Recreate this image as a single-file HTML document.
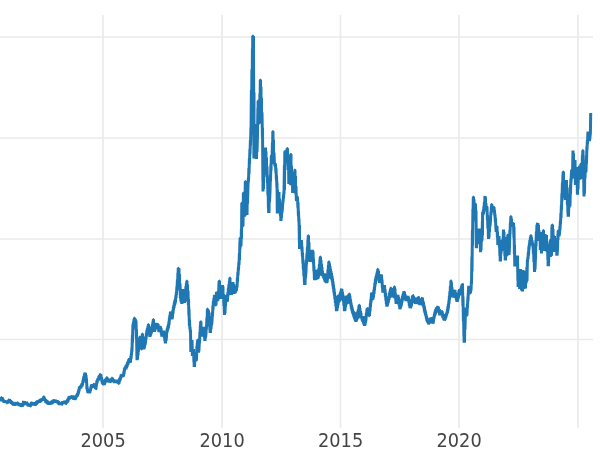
<!DOCTYPE html>
<html><head><meta charset="utf-8"><title>chart</title>
<style>
html,body{margin:0;padding:0;background:#fff;}
svg{display:block;}
text{font-family:"DejaVu Sans","Liberation Sans",sans-serif;font-size:18.3px;fill:#444444;}
</style></head>
<body>
<svg width="600" height="450" viewBox="0 0 600 450">
<defs><filter id="noop" x="0" y="0" width="600" height="450" filterUnits="userSpaceOnUse"><feOffset dx="0" dy="0"/></filter></defs>
<rect width="600" height="450" fill="#ffffff"/>
<g stroke="#eaeaea" stroke-width="1.7" fill="none"><line x1="103" y1="15" x2="103" y2="428"/><line x1="222" y1="15" x2="222" y2="428"/><line x1="340.5" y1="15" x2="340.5" y2="428"/><line x1="459" y1="15" x2="459" y2="428"/><line x1="578" y1="15" x2="578" y2="428"/><line x1="0" y1="37" x2="593" y2="37"/><line x1="0" y1="138" x2="593" y2="138"/><line x1="0" y1="239" x2="593" y2="239"/><line x1="0" y1="339.5" x2="593" y2="339.5"/></g>
<polyline points="-3.0,398.3 -3.0,399.8 -2.5,397.8 -2.5,399.6 -2.0,398.0 -2.0,400.1 -1.5,398.7 -1.1,400.4 -1.0,398.8 -0.6,400.3 -0.5,398.7 -0.2,399.9 0.0,398.2 0.0,400.9 0.5,400.1 0.9,398.4 1.0,401.0 1.4,397.5 1.5,397.5 1.5,400.2 2.0,397.2 2.4,400.0 2.5,398.0 2.9,401.0 3.0,399.6 3.4,401.3 3.5,400.0 3.9,402.6 4.0,400.5 4.4,402.6 4.5,400.2 4.9,402.6 5.0,400.5 5.4,402.5 5.5,401.2 5.9,402.9 6.0,400.5 6.1,403.3 6.5,400.9 6.5,403.5 7.0,400.7 7.0,402.9 7.5,403.2 7.9,400.1 8.0,402.8 8.4,400.5 8.5,403.1 8.9,399.8 9.0,402.3 9.4,399.3 9.5,399.0 9.5,402.1 10.0,399.7 10.0,402.8 10.5,400.6 10.9,402.9 11.0,401.4 11.4,403.7 11.5,401.0 11.9,404.1 12.0,401.4 12.4,404.2 12.5,402.1 12.9,405.0 13.0,402.5 13.1,405.1 13.5,402.2 13.5,405.7 14.0,402.6 14.0,405.3 14.5,403.2 14.5,405.2 15.0,402.3 15.0,405.5 15.5,404.4 15.9,402.0 16.0,405.0 16.4,402.6 16.5,404.7 16.9,403.0 17.0,404.2 17.1,402.7 17.5,402.9 17.5,405.1 18.0,403.0 18.4,404.5 18.5,402.9 18.9,405.7 19.0,403.7 19.4,405.3 19.5,403.2 19.9,406.2 20.0,403.1 20.4,406.4 20.5,403.9 20.9,405.9 21.0,403.8 21.4,406.7 21.5,403.1 21.9,406.0 22.0,404.1 22.4,406.3 22.5,406.5 22.9,403.6 23.0,405.6 23.4,401.5 23.5,401.3 23.5,404.3 24.0,401.1 24.0,404.4 24.5,401.1 24.5,404.8 25.0,402.1 25.0,404.8 25.5,401.8 25.5,404.0 26.0,401.5 26.0,405.0 26.5,401.6 26.5,405.0 27.0,402.5 27.4,405.1 27.5,403.6 27.9,406.1 28.0,403.8 28.4,406.0 28.5,403.7 28.9,406.6 29.0,403.6 29.1,406.7 29.5,403.9 29.5,406.8 30.0,403.8 30.0,406.2 30.5,406.0 30.9,403.4 31.0,404.6 31.4,402.3 31.5,404.8 31.8,402.5 32.0,402.3 32.0,404.5 32.5,401.9 32.5,405.6 33.0,402.5 33.0,405.0 33.5,403.1 33.9,404.5 34.0,402.7 34.4,404.9 34.5,402.1 34.5,404.7 35.0,403.1 35.0,405.7 35.5,404.3 35.9,402.2 36.0,403.7 36.4,401.8 36.5,404.6 36.9,401.3 37.0,403.7 37.4,400.4 37.5,402.9 37.9,400.9 38.0,403.1 38.4,400.8 38.5,402.9 38.9,400.2 39.0,401.9 39.4,400.3 39.5,402.9 39.9,399.5 40.0,402.4 40.4,399.1 40.5,402.0 40.9,398.8 41.0,401.4 41.4,399.2 41.5,400.3 41.9,398.7 42.0,400.4 42.4,398.8 42.5,400.8 42.9,398.1 43.0,400.5 43.4,397.0 43.5,401.0 43.8,396.8 44.0,396.8 44.0,400.3 44.5,398.1 44.9,400.4 45.0,399.0 45.4,401.2 45.5,399.3 45.9,402.8 46.0,399.8 46.4,402.8 46.5,400.5 46.9,403.6 47.0,401.7 47.4,403.7 47.5,400.8 47.9,404.2 48.0,401.4 48.4,404.2 48.5,402.3 48.8,404.8 49.0,402.1 49.0,404.8 49.5,401.2 49.5,404.2 50.0,401.9 50.0,404.8 50.5,401.4 50.5,403.6 51.0,403.4 51.4,402.2 51.5,404.2 51.9,400.8 52.0,404.0 52.4,401.6 52.5,403.4 52.9,400.1 53.0,402.9 53.4,400.6 53.5,401.8 53.8,400.6 54.0,399.3 54.0,402.4 54.5,399.9 54.5,402.8 55.0,400.1 55.0,402.7 55.5,399.5 55.5,401.7 56.0,400.3 56.0,401.8 56.5,400.4 56.5,402.3 57.0,400.4 57.4,402.4 57.5,400.9 57.9,403.5 58.0,401.1 58.4,403.4 58.5,401.3 58.9,404.5 59.0,402.0 59.4,405.1 59.5,402.1 59.8,404.9 60.0,402.1 60.0,404.3 60.5,402.2 60.5,404.4 61.0,402.7 61.0,405.0 61.5,402.5 61.5,404.5 62.0,404.3 62.4,401.4 62.5,403.9 62.9,401.6 63.0,404.2 63.3,401.1 63.5,401.6 63.5,403.9 64.0,401.5 64.0,403.6 64.5,400.8 64.5,403.9 65.0,401.1 65.3,404.2 65.5,400.6 65.5,403.8 66.0,403.6 66.4,400.9 66.5,403.4 66.9,400.5 67.0,402.6 67.4,400.0 67.5,402.5 67.9,399.0 68.0,401.6 68.4,397.8 68.5,399.9 68.9,396.7 69.0,399.9 69.4,396.7 69.5,398.3 69.9,396.0 70.0,398.5 70.4,396.8 70.5,398.1 70.9,396.6 71.0,398.7 71.4,396.4 71.5,398.9 71.9,395.4 72.0,398.7 72.3,396.1 72.5,395.4 72.5,397.9 73.0,395.5 73.4,399.4 73.5,396.4 73.9,399.8 74.0,396.3 74.3,399.7 74.5,395.7 74.5,400.0 75.0,396.5 75.0,399.3 75.5,398.6 75.9,396.0 76.0,397.9 76.4,395.7 76.5,396.9 76.9,394.4 77.0,396.7 77.4,393.8 77.5,395.8 77.9,393.0 78.0,394.7 78.4,390.8 78.5,393.4 78.9,389.1 79.0,391.5 79.4,386.7 79.5,389.0 79.9,386.7 80.0,388.8 80.4,386.4 80.5,387.4 80.9,385.7 81.0,388.1 81.4,384.7 81.5,386.6 81.9,383.4 82.0,386.5 82.4,383.1 82.5,385.1 82.9,380.6 83.0,382.8 83.4,378.7 83.5,381.1 83.9,376.1 84.0,380.8 84.4,374.7 84.5,380.7 84.9,372.9 85.0,372.5 85.0,380.7 85.5,373.0 85.5,380.7 86.0,375.2 86.4,383.0 86.5,378.5 86.9,389.3 87.0,385.9 87.4,391.1 87.5,389.1 87.9,393.0 88.0,389.5 88.0,393.2 88.5,389.5 88.5,393.2 89.0,389.3 89.0,392.9 89.5,388.8 89.5,392.5 90.0,392.0 90.4,388.6 90.5,390.6 90.9,387.0 91.0,388.8 91.3,385.6 91.5,384.7 91.5,387.8 92.0,385.4 92.0,387.5 92.5,384.3 92.5,386.9 93.0,387.4 93.4,384.3 93.5,387.8 93.9,384.2 94.0,387.3 94.3,383.9 94.5,383.5 94.5,387.8 95.0,384.1 95.4,388.6 95.5,384.0 95.6,389.0 96.0,388.7 96.4,383.3 96.5,385.5 96.9,380.7 97.0,383.3 97.4,379.7 97.5,381.0 97.9,378.6 98.0,381.1 98.4,377.9 98.5,380.0 98.9,375.9 99.0,379.1 99.4,375.8 99.5,379.2 99.9,374.9 100.0,379.0 100.3,374.3 100.5,374.2 100.5,379.4 101.0,374.5 101.0,379.3 101.5,377.0 101.9,381.8 102.0,379.1 102.4,383.5 102.5,380.5 102.9,384.3 103.0,380.2 103.4,384.9 103.5,380.5 103.8,385.3 104.0,380.6 104.0,385.2 104.5,380.5 104.5,384.5 105.0,382.5 105.4,379.7 105.5,381.8 105.9,378.8 106.0,382.1 106.4,378.1 106.5,382.1 106.8,377.6 107.0,377.6 107.0,382.3 107.5,378.5 107.5,381.9 108.0,378.5 108.3,381.9 108.5,378.9 108.5,382.6 109.0,379.8 109.0,382.7 109.5,378.5 109.5,382.3 110.0,378.7 110.0,382.4 110.5,381.7 110.9,379.5 111.0,382.0 111.4,378.6 111.5,381.9 111.9,377.9 112.0,381.9 112.3,378.0 112.5,377.9 112.5,381.7 113.0,378.8 113.0,380.8 113.5,379.5 113.9,381.8 114.0,380.2 114.3,383.0 114.5,379.8 114.5,382.8 115.0,379.7 115.0,382.9 115.5,379.9 115.5,381.8 116.0,379.5 116.0,383.0 116.5,379.9 116.9,382.7 117.0,379.8 117.4,382.4 117.5,379.8 117.9,383.2 118.0,380.7 118.3,383.5 118.5,379.9 118.5,383.4 119.0,383.5 119.4,379.0 119.5,381.5 119.9,378.0 120.0,380.6 120.4,376.8 120.5,379.3 120.9,375.3 121.0,377.5 121.3,374.4 121.5,375.0 121.5,376.7 122.0,374.0 122.0,376.8 122.5,374.3 122.5,376.3 123.0,376.7 123.4,374.9 123.5,376.5 123.9,371.3 124.0,374.1 124.4,368.5 124.5,371.2 124.9,367.5 125.0,369.2 125.4,366.9 125.5,368.8 125.9,365.6 126.0,369.3 126.4,364.5 126.5,367.7 126.9,364.7 127.0,367.2 127.4,362.4 127.5,365.1 127.9,361.6 128.0,364.7 128.4,360.6 128.5,362.9 128.8,359.5 129.0,359.5 129.0,362.2 129.5,358.2 129.5,361.5 130.0,358.4 130.0,362.1 130.5,361.6 130.9,355.8 131.0,359.2 131.4,352.8 131.5,355.1 131.9,347.5 132.0,351.5 132.4,335.0 132.5,342.5 132.9,324.5 133.0,330.0 133.4,322.2 133.5,327.0 133.9,319.7 134.0,326.6 134.3,318.0 134.5,318.0 134.5,326.6 135.0,318.5 135.0,326.6 135.5,319.2 135.5,326.8 136.0,320.6 136.4,338.6 136.5,329.4 136.9,356.6 137.0,338.4 137.0,360.2 137.5,338.4 137.5,359.4 138.0,338.4 138.0,355.5 138.5,338.4 138.5,351.6 139.0,338.4 139.0,349.0 139.5,349.0 139.8,337.0 140.0,337.0 140.0,349.0 140.5,337.0 140.5,349.0 141.0,337.0 141.0,349.0 141.5,337.0 141.5,349.0 142.0,349.0 142.3,334.0 142.5,334.0 142.5,349.0 143.0,337.1 143.0,349.0 143.5,337.1 143.8,349.5 144.0,337.1 144.0,349.5 144.5,337.1 144.5,347.8 145.0,337.1 145.0,345.0 145.5,342.4 145.9,336.2 146.0,339.3 146.4,333.1 146.5,336.1 146.9,330.0 147.0,334.7 147.4,328.2 147.5,334.5 147.9,326.2 148.0,334.5 148.3,324.5 148.5,324.5 148.5,334.5 149.0,326.9 149.0,334.5 149.5,327.0 149.8,337.0 150.0,327.0 150.0,337.0 150.5,327.0 150.5,335.6 151.0,326.7 151.0,333.8 151.5,332.0 151.9,326.0 152.0,331.6 152.4,324.1 152.5,331.4 152.9,321.6 153.0,331.4 153.3,319.5 153.5,319.5 153.5,331.4 154.0,323.3 154.3,332.0 154.5,324.0 154.5,332.0 155.0,323.8 155.0,330.6 155.5,323.3 155.5,328.7 156.0,322.7 156.0,329.2 156.5,322.9 156.5,328.2 157.0,324.1 157.0,329.1 157.5,323.2 157.5,328.9 158.0,324.0 158.4,328.8 158.5,326.2 158.8,332.2 159.0,325.9 159.0,332.1 159.5,325.7 159.5,331.5 160.0,326.7 160.0,331.4 160.5,326.2 160.5,331.9 161.0,327.8 161.4,334.4 161.5,330.4 161.8,336.7 162.0,330.5 162.0,336.6 162.5,330.8 162.5,336.8 163.0,330.7 163.0,336.9 163.5,330.4 163.5,336.4 164.0,331.5 164.4,338.1 164.5,331.6 164.9,341.0 165.0,331.6 165.3,343.5 165.5,331.6 165.5,343.5 166.0,331.6 166.0,340.8 166.5,336.4 166.9,329.5 167.0,332.7 167.4,328.1 167.5,330.9 167.9,325.8 168.0,329.4 168.4,324.4 168.5,327.7 168.9,321.5 169.0,324.9 169.4,317.6 169.5,320.2 169.9,314.9 170.0,319.5 170.4,312.2 170.5,311.8 170.5,319.2 171.0,311.7 171.0,319.4 171.5,311.8 171.5,319.1 172.0,311.8 172.0,319.2 172.5,316.9 172.9,310.0 173.0,313.7 173.4,306.8 173.5,309.6 173.9,304.8 174.0,307.8 174.4,302.0 174.5,305.6 174.9,300.2 175.0,304.3 175.4,298.5 175.5,302.2 175.9,295.3 176.0,298.2 176.4,291.9 176.5,294.8 176.9,286.3 177.0,290.6 177.4,279.5 177.5,289.2 177.9,272.5 178.0,289.2 178.2,268.3 178.5,268.3 178.5,289.2 179.0,268.3 179.0,289.2 179.5,273.9 179.5,289.2 180.0,283.3 180.4,298.1 180.5,289.0 180.9,301.2 181.0,289.0 181.4,302.8 181.5,289.0 181.8,304.0 182.0,289.0 182.0,304.0 182.5,289.0 182.5,303.0 183.0,289.0 183.0,303.0 183.5,289.0 183.5,303.0 184.0,289.0 184.0,303.0 184.5,289.0 184.5,303.0 185.0,289.0 185.0,301.8 185.5,299.0 185.9,286.4 186.0,299.0 186.4,283.4 186.5,299.0 186.8,281.0 187.0,281.0 187.0,299.0 187.5,284.6 187.5,299.0 188.0,290.6 188.4,305.0 188.5,299.0 188.9,315.4 189.0,309.1 189.4,325.9 189.5,319.6 189.9,329.3 190.0,327.0 190.4,332.6 190.5,330.0 190.8,352.0 191.0,340.0 191.0,352.0 191.5,340.0 191.5,352.0 192.0,340.0 192.4,356.0 192.5,349.0 192.5,356.1 193.0,348.9 193.0,356.0 193.5,349.0 193.9,362.1 194.0,352.0 194.2,367.0 194.5,352.0 194.5,367.0 195.0,352.0 195.0,361.0 195.5,352.0 195.5,361.0 196.0,352.0 196.0,361.0 196.5,359.2 196.9,345.9 197.0,352.5 197.4,341.7 197.5,352.5 197.6,340.0 198.0,340.0 198.0,352.5 198.5,340.0 198.5,352.5 199.0,349.9 199.4,339.3 199.5,343.3 199.9,332.1 200.0,336.7 200.4,324.7 200.5,336.7 200.6,321.7 201.0,321.7 201.0,336.7 201.5,326.7 201.5,336.7 202.0,326.7 202.0,336.7 202.5,326.7 202.5,336.7 203.0,326.7 203.0,336.7 203.5,326.7 203.5,336.7 204.0,326.7 204.4,337.6 204.5,326.7 204.8,341.0 205.0,326.7 205.0,341.0 205.5,326.7 205.5,338.2 206.0,333.5 206.4,325.8 206.5,328.8 206.9,317.9 207.0,326.3 207.4,309.0 207.5,309.0 207.5,326.3 208.0,309.4 208.0,326.3 208.5,310.3 208.5,326.3 209.0,312.4 209.0,326.3 209.5,316.1 209.9,330.3 210.0,316.1 210.1,333.0 210.5,316.1 210.5,333.0 211.0,316.1 211.0,329.2 211.5,316.1 211.5,325.4 212.0,321.5 212.4,312.2 212.5,316.1 212.9,305.6 213.0,309.6 213.4,301.1 213.5,305.6 213.9,298.1 214.0,305.0 214.4,295.6 214.5,295.0 214.5,305.0 215.0,295.0 215.0,305.0 215.5,295.0 215.5,305.0 216.0,305.0 216.4,293.9 216.5,291.7 216.5,300.1 217.0,291.9 217.0,300.2 217.5,291.7 217.5,300.1 218.0,300.0 218.4,291.2 218.5,299.0 218.9,283.9 219.0,299.0 219.1,281.0 219.5,281.0 219.5,299.0 220.0,285.0 220.0,299.0 220.5,285.0 220.5,299.0 221.0,285.0 221.0,299.0 221.5,285.0 221.5,299.0 222.0,285.0 222.0,299.0 222.5,285.0 222.5,299.0 223.0,286.5 223.0,299.0 223.5,294.0 223.9,306.0 224.0,296.0 224.4,313.5 224.5,296.0 224.5,315.0 225.0,296.0 225.0,313.5 225.5,296.0 225.5,306.2 226.0,295.1 226.0,300.5 226.5,295.7 226.5,301.0 227.0,294.9 227.0,301.5 227.5,300.4 227.9,292.4 228.0,295.7 228.4,287.7 228.5,293.7 228.9,284.2 229.0,293.7 229.4,280.8 229.5,293.7 229.8,278.0 230.0,278.0 230.0,293.7 230.5,281.9 230.5,293.7 231.0,282.0 231.1,295.0 231.5,282.0 231.5,295.0 232.0,282.0 232.0,293.0 232.5,282.0 232.5,293.0 233.0,282.0 233.0,293.0 233.5,283.9 233.5,293.0 234.0,286.1 234.0,293.8 234.5,285.7 234.5,293.3 235.0,286.2 235.0,293.3 235.5,285.7 235.5,292.4 236.0,286.4 236.0,291.0 236.5,289.8 236.9,284.1 237.0,287.8 237.4,277.9 237.5,281.6 237.9,272.0 238.0,275.5 238.4,267.0 238.5,270.0 238.9,262.0 239.0,265.0 239.4,253.4 239.5,260.0 239.9,242.4 240.0,249.0 240.1,238.0 240.5,238.0 240.5,246.0 241.0,246.0 241.4,228.6 241.5,238.7 241.8,203.0 242.0,203.0 242.0,226.0 242.5,203.0 242.5,226.0 243.0,226.0 243.4,193.0 243.5,193.0 243.5,216.0 244.0,193.0 244.0,216.0 244.5,193.0 244.5,216.0 245.0,215.0 245.3,181.5 245.5,181.5 245.5,215.0 246.0,181.5 246.0,215.0 246.5,181.5 246.5,215.0 247.0,181.5 247.0,215.0 247.5,181.5 247.5,203.7 248.0,185.2 248.4,177.8 248.5,181.4 248.9,168.0 249.0,174.0 249.4,158.2 249.5,164.0 249.9,149.1 250.0,154.5 250.4,140.0 250.5,145.5 250.9,127.5 251.0,135.0 251.4,90.0 251.5,135.0 251.9,69.2 252.0,135.0 252.4,48.5 252.5,135.0 252.7,36.0 253.0,36.0 253.0,135.0 253.5,36.0 253.9,158.5 254.0,92.5 254.0,158.5 254.5,124.0 254.5,158.5 255.0,124.0 255.0,158.5 255.5,124.0 255.5,158.5 256.0,124.0 256.4,159.0 256.5,124.0 256.5,159.0 257.0,124.0 257.0,152.2 257.5,135.1 257.9,107.8 258.0,123.0 258.1,101.0 258.5,101.0 258.5,123.0 259.0,101.0 259.0,123.0 259.5,123.0 259.9,93.2 260.0,123.0 260.3,80.0 260.5,80.0 260.5,123.0 261.0,86.7 261.0,123.0 261.5,97.8 261.5,123.0 262.0,112.3 262.4,136.9 262.5,127.7 262.9,181.2 263.0,147.5 263.0,191.5 263.5,147.5 263.5,189.1 264.0,147.5 264.0,177.0 264.5,147.5 264.5,174.6 265.0,147.5 265.0,174.6 265.5,147.5 265.5,174.6 266.0,151.3 266.0,174.6 266.5,157.5 266.5,174.6 267.0,166.3 267.4,182.9 267.5,176.7 267.9,195.2 268.0,176.7 268.4,207.9 268.5,176.7 268.6,213.0 269.0,176.7 269.0,213.0 269.5,176.7 269.5,202.4 270.0,191.9 270.4,175.0 270.5,181.3 270.9,164.4 271.0,170.8 271.3,156.0 271.5,155.8 271.5,163.3 272.0,163.2 272.4,142.9 272.5,163.2 272.8,131.5 273.0,131.5 273.0,163.2 273.5,139.4 273.5,163.2 274.0,152.5 274.4,163.3 274.5,162.6 274.9,165.7 275.0,163.1 275.4,166.7 275.5,163.8 275.9,172.7 276.0,168.3 276.4,179.9 276.5,175.6 276.9,187.1 277.0,182.8 277.3,213.5 277.5,190.0 277.5,213.5 278.0,192.0 278.0,213.5 278.5,192.0 278.5,213.5 279.0,192.0 279.0,213.5 279.5,198.6 279.5,213.5 280.0,202.5 280.4,215.7 280.5,202.5 280.8,221.0 281.0,202.5 281.0,221.0 281.5,202.5 281.5,217.8 282.0,202.5 282.0,212.5 282.5,207.2 282.9,200.0 283.0,202.6 283.4,195.7 283.5,198.5 283.9,191.4 284.0,194.2 284.4,165.0 284.5,190.0 284.8,151.5 285.0,151.5 285.0,161.6 285.5,151.5 285.5,161.6 286.0,151.5 286.0,161.6 286.5,161.6 286.9,149.5 287.0,161.6 287.1,148.5 287.5,148.5 287.9,165.7 288.0,155.4 288.1,170.0 288.5,155.4 288.8,184.0 289.0,155.4 289.0,184.0 289.5,155.4 289.5,184.0 290.0,155.4 290.0,184.0 290.5,184.0 290.8,154.3 291.0,154.3 291.0,184.0 291.5,165.8 291.6,185.0 292.0,172.0 292.0,185.0 292.5,172.0 292.6,193.0 293.0,172.0 293.0,193.0 293.5,172.0 293.5,192.0 294.0,172.0 294.0,192.0 294.5,192.0 294.8,170.0 295.0,170.0 295.0,192.0 295.5,176.0 295.5,192.0 296.0,186.0 296.3,200.0 296.5,195.8 296.5,201.0 297.0,195.7 297.0,201.4 297.5,197.0 297.9,207.8 298.0,202.4 298.4,216.3 298.5,211.4 298.9,222.5 299.0,218.8 299.4,243.0 299.5,225.0 299.5,249.0 300.0,240.0 300.0,249.0 300.5,240.0 300.5,249.0 301.0,240.0 301.0,249.0 301.5,240.0 301.9,250.4 302.0,246.5 302.4,256.8 302.5,252.9 302.9,263.3 303.0,259.4 303.4,269.7 303.5,263.3 303.9,276.1 304.0,263.3 304.4,282.4 304.5,263.3 304.6,285.0 305.0,263.3 305.0,285.0 305.5,263.3 305.5,278.2 306.0,271.3 306.4,260.3 306.5,264.5 306.9,253.5 307.0,260.3 307.4,246.7 307.5,260.3 307.9,239.8 308.0,260.3 308.2,235.7 308.5,235.7 308.5,260.3 309.0,242.3 309.0,260.3 309.5,250.5 309.8,262.0 310.0,250.5 310.0,262.0 310.5,250.5 310.5,261.1 311.0,250.5 311.0,261.1 311.8,249.7 311.8,262.0 312.0,249.7 312.0,262.0 312.5,249.7 312.5,262.0 313.0,251.2 313.4,263.5 313.5,258.9 313.9,271.1 314.0,266.5 314.4,278.8 314.5,270.1 314.5,280.3 315.0,270.1 315.0,280.2 315.5,270.1 315.5,279.9 316.0,270.1 316.0,279.6 316.5,270.0 316.5,279.3 317.0,269.9 317.0,279.1 317.5,269.7 317.5,278.8 318.0,269.9 318.0,278.4 318.5,276.2 318.9,268.1 319.0,275.4 319.4,264.0 319.5,275.4 319.9,259.6 320.0,275.4 320.2,257.0 320.5,257.0 320.5,275.4 321.0,260.0 321.0,275.4 321.5,263.8 321.5,275.4 322.0,267.0 322.0,276.0 322.5,270.8 322.5,275.9 323.0,273.6 323.4,277.7 323.5,273.3 323.9,278.5 324.0,273.8 324.4,279.7 324.5,273.4 324.9,281.4 325.0,274.3 325.4,282.3 325.5,274.4 325.9,282.5 326.0,274.1 326.4,283.2 326.5,274.2 326.5,283.2 327.0,274.3 327.0,282.6 327.5,278.5 327.9,269.9 328.0,278.4 328.4,265.4 328.5,278.4 328.8,261.7 329.0,261.7 329.0,278.4 329.5,263.4 329.5,278.4 330.0,266.1 330.0,278.4 330.5,268.8 330.5,278.5 331.0,270.7 331.0,278.9 331.5,273.2 331.9,280.1 332.0,276.2 332.4,282.1 332.5,278.6 332.9,286.0 333.0,281.6 333.4,289.0 333.5,284.8 333.9,292.3 334.0,288.4 334.4,295.3 334.5,292.2 334.9,299.2 335.0,295.5 335.4,302.9 335.5,295.7 335.9,306.5 336.0,295.7 336.4,310.5 336.5,295.7 336.5,311.3 337.0,295.7 337.0,310.7 337.5,295.7 337.5,307.9 338.0,295.7 338.0,305.1 338.5,295.1 338.5,302.7 339.0,294.8 339.0,301.6 339.5,300.7 339.9,293.9 340.0,300.4 340.4,292.2 340.5,300.1 340.9,290.7 341.0,300.1 341.4,289.0 341.5,288.7 341.5,300.1 342.0,289.3 342.0,300.1 342.5,291.9 342.5,300.3 343.0,294.6 343.4,301.9 343.5,296.3 343.9,305.6 344.0,296.3 344.4,310.4 344.5,296.3 344.5,311.3 345.0,296.3 345.0,310.6 345.5,296.3 345.5,307.3 346.0,296.2 346.0,304.2 346.5,295.9 346.5,303.5 347.0,295.9 347.0,303.3 347.5,303.5 347.9,295.6 348.0,303.2 348.4,294.7 348.5,303.1 348.9,294.3 349.0,303.0 349.1,294.0 349.5,294.0 349.5,303.0 350.0,296.2 350.0,303.7 350.5,299.3 350.9,305.6 351.0,302.5 351.4,308.6 351.5,305.2 351.9,310.4 352.0,306.5 352.4,312.7 352.5,309.0 352.9,313.9 353.0,310.9 353.4,315.4 353.5,311.4 353.9,317.1 354.0,311.8 354.4,318.3 354.5,312.5 354.9,319.6 355.0,312.7 355.4,320.9 355.5,312.8 355.8,322.0 356.0,312.8 356.0,322.0 356.5,312.7 356.5,320.6 357.0,312.2 357.0,318.7 357.5,318.1 357.9,310.9 358.0,317.8 358.4,308.8 358.5,317.8 358.9,306.3 359.0,317.8 359.1,305.3 359.5,305.3 359.5,317.8 360.0,308.2 360.0,317.8 360.5,310.9 360.5,318.3 361.0,312.8 361.0,318.3 361.5,316.2 361.9,319.4 362.0,316.1 362.4,321.5 362.5,316.2 362.9,321.9 363.0,316.1 363.4,323.5 363.5,316.6 363.9,324.5 364.0,316.7 364.4,325.7 364.5,316.7 364.5,326.0 365.0,316.7 365.0,325.3 365.5,316.4 365.5,322.7 366.0,319.5 366.4,312.8 366.5,316.3 366.9,309.5 367.0,315.5 367.1,308.3 367.5,308.5 367.5,315.5 368.0,308.3 368.0,315.4 368.5,308.4 368.5,315.5 369.0,308.3 369.0,315.7 369.5,315.7 369.9,307.9 370.0,311.3 370.4,303.7 370.5,306.8 370.9,299.0 371.0,302.5 371.4,294.4 371.5,293.2 371.5,298.8 372.0,292.4 372.0,298.4 372.5,292.9 372.5,299.1 373.0,299.1 373.4,293.7 373.5,297.2 373.9,289.8 374.0,293.9 374.4,286.8 374.5,290.1 374.9,283.2 375.0,286.2 375.4,279.4 375.5,283.8 375.9,276.9 376.0,281.3 376.4,275.0 376.5,279.6 376.9,272.8 377.0,279.3 377.4,270.7 377.5,278.8 377.8,269.3 378.0,269.2 378.0,278.8 378.5,270.9 378.5,279.1 379.0,274.0 379.4,282.3 379.5,274.4 379.5,282.9 380.0,274.4 380.0,283.2 380.5,274.3 380.5,283.1 381.0,274.5 381.0,282.9 381.5,274.5 381.9,283.2 382.0,279.5 382.4,288.3 382.5,284.7 382.8,292.6 383.0,285.0 383.0,292.7 383.5,285.8 383.5,292.4 384.0,285.8 384.0,292.3 384.5,285.0 384.9,292.8 385.0,289.1 385.4,296.8 385.5,292.8 385.9,300.4 386.0,296.7 386.4,304.2 386.5,297.3 386.8,306.7 387.0,297.3 387.0,306.7 387.5,297.1 387.5,305.5 388.0,296.4 388.0,303.2 388.5,300.9 388.9,296.3 389.0,299.9 389.4,293.1 389.5,297.9 389.9,291.3 390.0,297.8 390.4,289.4 390.5,297.3 390.8,288.0 391.0,288.0 391.0,297.3 391.5,288.1 391.5,297.3 392.0,288.1 392.0,297.3 392.5,288.1 392.5,297.3 393.0,288.1 393.0,296.9 393.5,288.0 393.5,297.0 394.0,296.9 394.4,286.7 394.5,286.7 394.5,296.9 395.0,288.5 395.0,297.2 395.5,293.5 395.9,302.1 396.0,294.7 396.1,304.0 396.5,294.7 396.5,304.0 397.0,294.7 397.0,304.0 397.5,294.7 397.5,304.0 398.0,294.7 398.0,304.0 398.5,296.8 398.5,304.5 399.0,299.9 399.4,306.5 399.5,300.1 399.8,309.3 400.0,300.1 400.0,309.3 400.5,300.0 400.5,308.2 401.0,299.3 401.0,306.6 401.5,303.7 401.9,298.3 402.0,302.4 402.4,296.3 402.5,300.5 402.9,294.5 403.0,299.4 403.4,293.0 403.5,298.1 403.8,291.2 404.0,291.8 404.0,298.6 404.5,291.9 404.5,298.2 405.0,294.0 405.0,299.4 405.5,295.9 405.9,301.1 406.0,295.6 406.1,300.4 406.5,295.8 406.5,301.2 407.0,295.7 407.0,301.3 407.5,296.2 407.5,301.5 408.0,295.8 408.0,301.3 408.5,297.1 408.9,302.9 409.0,299.7 409.4,305.8 409.5,299.7 409.9,307.6 410.0,300.2 410.1,308.2 410.5,300.4 410.5,308.4 411.0,299.6 411.0,306.8 411.5,304.7 411.9,299.2 412.0,303.0 412.4,296.1 412.5,302.0 412.8,295.3 413.0,295.4 413.0,302.6 413.5,296.2 413.5,302.6 414.0,297.0 414.0,303.2 414.5,297.8 414.9,302.7 415.0,299.4 415.2,303.4 415.5,298.7 415.5,303.9 416.0,297.9 416.0,304.0 416.5,299.2 416.5,303.7 417.0,297.8 417.0,303.8 417.5,302.6 417.9,297.7 418.0,303.4 418.1,297.0 418.5,297.3 418.5,303.6 419.0,298.8 419.4,303.2 419.5,298.7 419.8,305.2 420.0,299.2 420.0,305.2 420.5,298.2 420.5,304.3 421.0,298.6 421.0,304.9 421.5,304.2 421.9,298.4 422.0,304.8 422.1,298.2 422.5,297.7 422.5,304.4 423.0,300.8 423.4,306.4 423.5,302.3 423.9,308.1 424.0,305.0 424.4,311.3 424.5,306.9 424.9,312.8 425.0,309.6 425.4,314.9 425.5,312.0 425.9,316.3 426.0,314.0 426.4,319.0 426.5,315.8 426.9,320.8 427.0,317.6 427.4,322.2 427.5,319.5 427.9,322.5 428.0,318.4 428.4,324.0 428.5,319.7 428.5,324.5 429.0,318.7 429.0,323.7 429.5,318.8 429.5,323.1 430.0,322.1 430.4,318.5 430.5,323.5 430.8,318.7 431.0,317.4 431.0,322.7 431.5,317.9 431.5,322.4 432.0,317.5 432.0,322.6 432.5,317.4 432.8,323.4 433.0,317.5 433.0,323.7 433.5,320.9 433.9,316.3 434.0,318.8 434.4,314.1 434.5,316.3 434.9,311.9 435.0,315.4 435.4,309.9 435.5,313.9 435.9,309.0 436.0,311.3 436.4,307.3 436.5,311.8 436.9,307.3 437.0,312.6 437.4,307.4 437.5,311.9 437.6,306.9 438.0,306.3 438.0,312.5 438.5,307.3 438.9,312.0 439.0,309.1 439.4,313.0 439.5,309.4 439.7,315.4 440.0,311.6 440.0,313.7 440.5,311.6 440.5,314.3 441.0,310.2 441.0,315.5 441.5,310.4 441.9,314.0 442.0,311.0 442.4,316.3 442.5,312.5 442.9,318.1 443.0,314.8 443.4,317.8 443.5,314.1 443.9,320.1 444.0,314.5 444.4,320.2 444.5,314.6 444.5,320.8 445.0,315.1 445.0,319.8 445.5,314.7 445.5,318.3 446.0,317.0 446.4,313.1 446.5,315.6 446.9,312.2 447.0,314.0 447.4,309.7 447.5,312.8 447.9,306.7 448.0,310.7 448.4,304.1 448.5,307.4 448.9,300.5 449.0,303.7 449.4,295.9 449.5,299.7 449.9,291.3 450.0,296.7 450.4,286.0 450.5,296.7 450.9,280.7 451.0,280.7 451.0,296.7 451.5,282.5 451.5,296.7 452.0,287.2 452.0,296.7 452.5,289.8 452.7,297.4 453.0,289.5 453.0,297.7 453.5,289.8 453.5,297.6 454.0,289.7 454.0,297.4 454.5,289.8 454.5,297.3 455.0,289.7 455.0,297.4 455.5,292.3 455.5,297.9 456.0,293.2 456.4,300.1 456.5,293.6 456.9,301.7 457.0,293.7 457.0,302.0 457.5,293.4 457.5,301.3 458.0,292.9 458.0,299.1 458.5,296.4 458.9,291.0 459.0,290.5 459.0,295.7 459.5,289.1 459.5,295.4 460.0,291.0 460.0,294.0 460.5,293.4 460.9,288.3 461.0,293.6 461.4,286.9 461.5,293.1 461.9,285.0 462.0,293.1 462.2,284.1 462.5,284.3 462.9,305.9 463.0,296.6 463.4,321.2 463.5,307.5 463.9,336.6 464.0,307.5 464.1,342.8 464.5,307.5 464.5,342.8 465.0,307.5 465.0,329.2 465.5,307.5 465.5,316.0 466.0,307.5 466.0,316.0 466.5,307.5 466.5,316.0 467.0,314.6 467.4,303.7 467.5,307.8 467.9,296.8 468.0,300.9 468.4,289.9 468.5,294.2 468.6,286.9 469.0,286.3 469.0,293.6 469.5,286.3 469.5,293.2 470.0,287.2 470.0,293.0 470.5,293.0 470.9,287.0 471.0,290.6 471.4,281.0 471.5,284.6 471.9,256.5 472.0,271.5 472.4,230.0 472.5,245.5 472.9,209.0 473.0,220.0 473.3,197.0 473.5,197.0 473.5,220.0 474.0,199.2 474.0,220.0 474.5,202.8 474.5,220.0 475.0,203.5 475.0,220.0 475.5,203.5 475.9,221.7 476.0,210.4 476.3,248.3 476.5,228.5 476.5,248.3 477.0,228.5 477.0,244.2 477.5,228.5 477.5,244.0 478.0,228.5 478.0,244.0 478.5,228.5 478.5,244.0 479.0,228.5 479.0,244.0 479.5,228.5 479.5,244.0 480.0,228.5 480.4,248.9 480.5,228.5 480.5,252.3 481.0,228.5 481.0,250.5 481.5,228.5 481.5,241.2 482.0,240.0 482.4,221.3 482.5,235.3 482.6,212.0 483.0,215.1 483.4,209.9 483.5,214.0 483.9,206.4 484.0,209.9 484.4,201.7 484.5,209.9 484.9,196.9 485.0,196.0 485.0,209.9 485.5,197.2 485.5,209.9 486.0,203.2 486.0,210.0 486.5,206.0 486.9,211.8 487.0,206.5 487.4,220.2 487.5,215.1 487.9,228.7 488.0,216.8 488.4,237.3 488.5,216.8 488.5,239.0 489.0,216.8 489.0,237.8 489.5,216.8 489.5,232.0 490.0,216.8 490.0,226.2 490.5,220.3 490.9,211.8 491.0,214.9 491.4,206.6 491.5,211.5 491.6,204.5 492.0,204.4 492.0,211.6 492.5,206.1 492.5,211.9 493.0,206.2 493.0,211.9 493.5,206.2 493.5,211.7 494.0,207.1 494.4,213.2 494.5,210.7 494.9,216.5 495.0,214.3 495.4,222.5 495.5,218.4 495.9,229.3 496.0,225.2 496.1,232.0 496.5,225.8 496.5,232.0 497.0,226.0 497.4,237.4 497.5,231.7 497.8,245.0 498.0,236.0 498.0,245.0 498.5,236.0 498.5,245.0 499.0,236.0 499.4,246.9 499.5,240.0 499.9,256.0 500.0,240.0 500.2,261.5 500.5,240.0 500.5,261.5 501.0,240.0 501.0,253.7 501.5,240.0 501.5,250.0 502.0,240.0 502.0,250.0 502.5,250.0 502.9,238.3 503.0,250.0 503.4,231.0 503.5,229.5 503.5,250.0 504.0,231.7 504.0,250.0 504.5,237.0 504.9,256.0 505.0,237.0 505.2,260.5 505.5,237.0 505.5,260.5 506.0,237.0 506.0,255.0 506.5,237.0 506.5,255.0 507.0,237.0 507.0,255.0 507.5,255.0 507.8,235.0 508.0,235.0 508.0,255.0 508.5,235.0 508.5,255.0 509.0,235.0 509.0,255.0 509.5,246.9 509.9,230.0 510.0,234.5 510.4,222.5 510.5,227.0 510.8,216.5 511.0,216.5 511.0,225.0 511.5,218.5 511.5,225.1 512.0,221.9 512.0,225.6 512.5,222.2 512.5,226.2 513.0,222.6 513.0,225.5 513.5,223.0 513.9,237.7 514.0,226.7 514.4,254.2 514.5,245.0 514.8,266.5 515.0,255.5 515.0,266.5 515.5,255.5 515.5,266.5 516.0,255.5 516.0,266.5 516.5,255.5 516.5,266.5 517.0,255.5 517.0,266.5 517.5,255.5 517.9,280.7 518.0,269.0 518.1,287.0 518.5,269.0 518.5,287.0 519.0,269.0 519.0,287.0 519.5,269.0 519.6,289.0 520.0,269.0 520.0,289.0 520.5,269.0 520.5,289.0 521.0,270.0 521.4,290.1 521.5,270.0 521.9,290.8 522.0,270.0 522.4,291.4 522.5,270.0 522.5,291.5 523.0,270.0 523.0,289.0 523.5,271.0 523.5,289.0 524.0,271.0 524.0,289.0 524.5,271.0 524.5,288.5 525.0,271.0 525.0,288.5 525.5,271.0 525.5,288.5 526.0,271.0 526.0,283.0 526.5,281.0 526.9,266.7 527.0,281.0 527.4,259.9 527.5,261.6 527.9,257.1 528.0,258.8 528.4,251.8 528.5,255.5 528.9,246.4 529.0,249.6 529.4,243.4 529.5,245.6 529.9,240.2 530.0,244.7 530.4,237.7 530.5,244.7 530.8,235.5 531.0,235.5 531.0,244.7 531.5,237.2 531.5,244.7 532.0,240.0 532.0,245.0 532.5,242.5 532.9,247.2 533.0,244.3 533.4,253.7 533.5,244.3 533.9,262.0 534.0,244.3 534.4,270.3 534.5,244.3 534.5,272.0 535.0,244.3 535.0,269.6 535.5,257.3 535.9,240.2 536.0,246.1 536.4,231.6 536.5,241.0 536.9,224.7 537.0,241.0 537.4,223.3 537.5,223.0 537.5,241.0 538.0,223.3 538.0,241.0 538.5,225.0 538.5,241.0 539.0,230.3 539.0,241.0 539.5,232.0 539.5,241.0 540.0,232.0 540.3,250.0 540.5,232.3 540.5,250.0 541.0,232.3 541.4,251.4 541.5,232.3 541.5,253.5 542.0,232.3 542.0,250.6 542.5,232.3 542.5,250.0 543.0,250.0 543.3,230.5 543.5,230.5 543.5,250.0 544.0,234.0 544.0,250.0 544.5,234.0 544.5,250.0 545.0,234.0 545.4,251.0 545.5,235.0 545.5,251.0 546.0,235.0 546.0,251.0 546.5,235.0 546.5,251.0 547.0,241.4 547.1,252.0 547.5,244.0 547.9,259.9 548.0,244.0 548.1,266.3 548.5,244.0 548.5,266.3 549.0,244.0 549.0,255.5 549.5,244.0 549.5,255.5 550.0,255.5 550.4,240.0 550.5,240.0 550.5,255.5 551.0,240.0 551.0,255.5 551.5,255.5 551.9,227.0 552.0,252.0 552.1,225.0 552.5,225.0 552.5,252.0 553.0,228.9 553.0,252.0 553.5,235.3 553.5,252.0 554.0,236.0 554.0,252.0 554.5,236.0 554.5,252.0 555.0,238.2 555.0,252.0 555.5,238.2 555.5,252.0 556.0,238.2 556.0,252.0 556.5,238.2 556.8,255.7 557.0,238.2 557.0,255.7 557.5,249.8 557.9,234.6 558.0,240.0 558.1,231.0 558.5,230.8 558.5,236.2 559.0,230.7 559.0,236.2 559.5,233.6 559.9,226.7 560.0,229.6 560.4,220.5 560.5,224.2 560.9,213.0 561.0,218.0 561.4,204.7 561.5,209.7 561.9,193.3 562.0,200.6 562.4,182.9 562.5,198.0 562.9,175.1 563.0,198.0 563.1,172.0 563.5,172.0 563.5,198.0 564.0,180.0 564.0,198.0 564.5,180.0 564.5,198.0 565.0,180.0 565.4,200.0 565.5,180.0 565.5,200.0 566.0,180.0 566.0,200.0 566.5,180.0 566.5,200.0 567.0,187.5 567.4,205.0 567.5,194.0 567.9,213.4 568.0,194.0 568.1,216.7 568.5,194.0 568.5,216.7 569.0,194.0 569.0,208.3 569.5,194.0 569.5,206.0 570.0,206.0 570.4,185.0 570.5,194.0 570.9,178.7 571.0,182.5 571.4,172.5 571.5,178.0 571.6,170.0 572.0,170.0 572.0,178.0 572.5,178.0 572.9,153.9 573.0,150.5 573.0,178.0 573.5,153.2 573.5,178.0 574.0,160.0 574.0,178.0 574.5,160.0 574.5,178.0 575.0,160.0 575.4,185.0 575.5,167.0 575.5,185.0 576.0,167.0 576.0,185.0 576.5,167.0 576.5,185.0 577.0,168.6 577.4,194.7 577.5,168.6 577.5,194.7 578.0,168.6 578.0,189.2 578.5,168.6 578.5,180.0 579.0,168.6 579.0,180.0 579.5,165.8 579.5,178.0 580.0,165.8 580.0,178.0 580.5,178.0 580.8,164.0 581.0,164.0 581.0,178.0 581.5,178.0 581.9,163.1 582.0,178.0 582.4,154.8 582.5,178.0 582.8,150.5 583.0,150.5 583.4,178.1 583.5,160.3 583.9,193.4 584.0,160.3 584.0,196.5 584.5,160.3 584.5,193.4 585.0,160.3 585.0,178.1 585.5,160.3 585.5,172.0 586.0,172.0 586.4,155.5 586.5,163.7 586.9,146.2 587.0,150.0 587.4,140.0 587.5,143.7 587.9,132.9 588.0,131.5 588.0,141.0 588.5,131.5 588.5,141.0 589.0,131.5 589.0,141.0 589.5,131.5 589.5,141.0 590.4,133.0 590.7,113.0" fill="none" stroke="#1f77b4" stroke-width="3.0" stroke-linejoin="bevel" stroke-linecap="butt"/>
<g filter="url(#noop)"><text transform="translate(103.1,446.8) scale(0.97,1.04)" x="0" y="0" text-anchor="middle">2005</text><text transform="translate(222.1,446.8) scale(0.97,1.04)" x="0" y="0" text-anchor="middle">2010</text><text transform="translate(340.6,446.8) scale(0.97,1.04)" x="0" y="0" text-anchor="middle">2015</text><text transform="translate(459.1,446.8) scale(0.97,1.04)" x="0" y="0" text-anchor="middle">2020</text></g>
</svg>
</body></html>
